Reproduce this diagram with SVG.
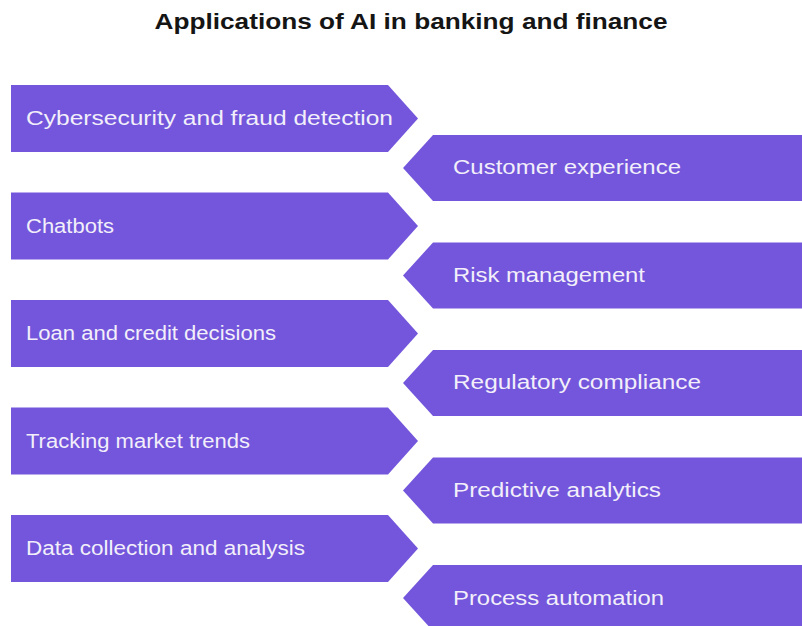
<svg xmlns="http://www.w3.org/2000/svg" width="802" height="626" viewBox="0 0 802 626">
<style>
.bg{fill:#ffffff}
.title{font-family:"Liberation Sans",Arial,sans-serif;font-weight:bold;font-size:22px;fill:#151515}
.shape{fill:#7356db}
.lbl{font-family:"Liberation Sans",Arial,sans-serif;font-size:20px;fill:#f2effa}
</style>
<rect class="bg" x="0" y="0" width="802" height="626"/>
<text class="title" x="411" y="29" text-anchor="middle" textLength="513" lengthAdjust="spacingAndGlyphs">Applications of AI in banking and finance</text>
<g id="n1"><polygon class="shape" points="11,85 388,85 418,118.5 388,152 11,152"/><text class="lbl" x="26" y="125" textLength="367" lengthAdjust="spacingAndGlyphs">Cybersecurity and fraud detection</text></g>
<g id="n2"><polygon class="shape" points="433,135 802,135 802,201 433,201 403,168"/><text class="lbl" x="453" y="174" textLength="228" lengthAdjust="spacingAndGlyphs">Customer experience</text></g>
<g id="n3"><polygon class="shape" points="11,192.5 388,192.5 418,226 388,259.5 11,259.5"/><text class="lbl" x="26" y="232.5" textLength="88" lengthAdjust="spacingAndGlyphs">Chatbots</text></g>
<g id="n4"><polygon class="shape" points="433,242.5 802,242.5 802,308.5 433,308.5 403,275.5"/><text class="lbl" x="453" y="281.5" textLength="192" lengthAdjust="spacingAndGlyphs">Risk management</text></g>
<g id="n5"><polygon class="shape" points="11,300 388,300 418,333.5 388,367 11,367"/><text class="lbl" x="26" y="340" textLength="250" lengthAdjust="spacingAndGlyphs">Loan and credit decisions</text></g>
<g id="n6"><polygon class="shape" points="433,350 802,350 802,416 433,416 403,383"/><text class="lbl" x="453" y="389" textLength="248" lengthAdjust="spacingAndGlyphs">Regulatory compliance</text></g>
<g id="n7"><polygon class="shape" points="11,407.5 388,407.5 418,441 388,474.5 11,474.5"/><text class="lbl" x="26" y="447.5" textLength="224" lengthAdjust="spacingAndGlyphs">Tracking market trends</text></g>
<g id="n8"><polygon class="shape" points="433,457.5 802,457.5 802,523.5 433,523.5 403,490.5"/><text class="lbl" x="453" y="496.5" textLength="208" lengthAdjust="spacingAndGlyphs">Predictive analytics</text></g>
<g id="n9"><polygon class="shape" points="11,515 388,515 418,548.5 388,582 11,582"/><text class="lbl" x="26" y="555" textLength="279" lengthAdjust="spacingAndGlyphs">Data collection and analysis</text></g>
<g id="n10"><polygon class="shape" points="433,565 802,565 802,631 433,631 403,598"/><text class="lbl" x="453" y="605" textLength="211" lengthAdjust="spacingAndGlyphs">Process automation</text></g>
<g id="connectors"></g>
</svg>
